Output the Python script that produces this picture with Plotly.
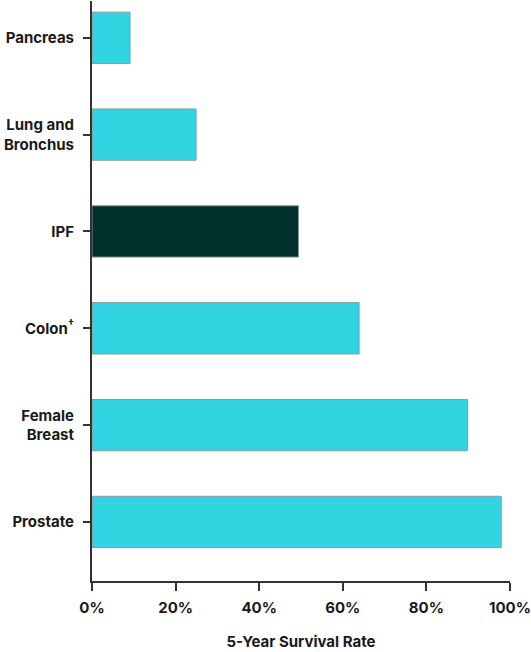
import plotly.graph_objects as go

# Data
categories = ["Pancreas", "Lung and<br>Bronchus", "IPF", "Colon<sup>†</sup>", "Female<br>Breast", "Prostate"]
survival = [9.1, 24.9, 49.4, 63.9, 89.8, 97.9]
bar_colors = ["#33D4E2", "#33D4E2", "#01302B", "#33D4E2", "#33D4E2", "#33D4E2"]
x_ticks = [0, 20, 40, 60, 80, 100]
x_ticktext = ["<b>%d%%</b>" % v for v in x_ticks]

fig = go.Figure(go.Bar(
    x=survival,
    y=list(range(len(categories))),
    orientation="h",
    width=0.53,
    marker=dict(color=bar_colors, line=dict(color="#8a9a9c", width=1)),
))

fig.update_layout(
    width=531,
    height=652,
    margin=dict(l=92, r=21, t=1, b=71),
    plot_bgcolor="white",
    paper_bgcolor="white",
    font=dict(family="Inter, Roboto, Liberation Sans, sans-serif", size=15, color="#1a1a1a"),
    showlegend=False,
    xaxis=dict(
        range=[0, 100],
        tickvals=x_ticks,
        ticktext=x_ticktext,
        showgrid=False,
        zeroline=False,
        showline=True,
        linecolor="#333333",
        linewidth=2,
        ticks="outside",
        ticklen=8,
        tickwidth=2,
        tickcolor="#333333",
        ticklabelstandoff=4,
        title=dict(text="<b>5-Year Survival Rate</b>", standoff=20, font=dict(size=15)),
    ),
    yaxis=dict(
        range=[5.61, -0.38],
        tickvals=list(range(len(categories))),
        ticktext=["<b>%s</b>" % c for c in categories],
        showgrid=False,
        zeroline=False,
        showline=True,
        linecolor="#333333",
        linewidth=2,
        ticks="outside",
        ticklen=7,
        tickwidth=2,
        tickcolor="#333333",
        ticklabelstandoff=6,
    ),
)

# page has a default body margin; remove it so the figure sits at the corner
fig.write_html("out.html", config={"displayModeBar": False},
               post_script="document.body.style.margin='0px';")
